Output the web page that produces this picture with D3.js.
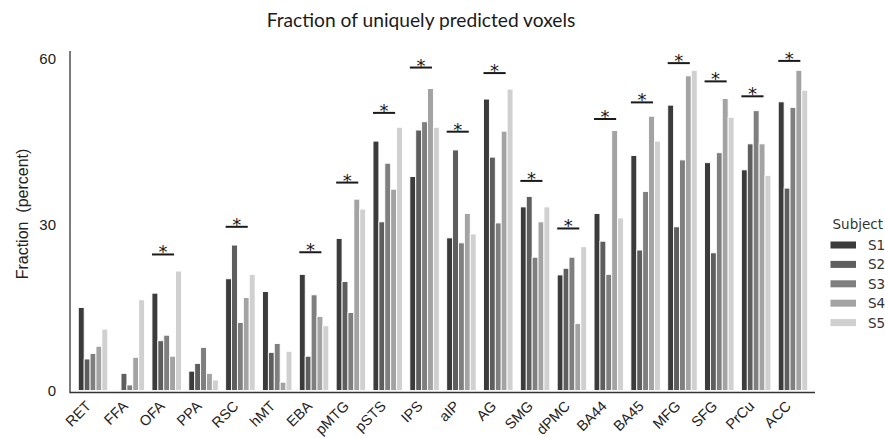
<!DOCTYPE html>
<html>
<head>
<meta charset="utf-8">
<script src="https://cdn.jsdelivr.net/npm/d3@7"></script>
<style>
  html, body { margin: 0; padding: 0; background: #fff; }
  svg { display: block; }
</style>
</head>
<body>
<svg id="chart" width="885" height="438"></svg>
<script>
// Regions of interest along the x axis
const regions = ["RET","FFA","OFA","PPA","RSC","hMT","EBA","pMTG","pSTS","IPS",
                 "aIP","AG","SMG","dPMC","BA44","BA45","MFG","SFG","PrCu","ACC"];
const subjects = ["S1","S2","S3","S4","S5"];

// Fraction of uniquely predicted voxels (percent), one array per subject
const s1 = [15.0, 0.0, 17.6, 3.5, 20.2, 17.9, 21.0, 27.5, 45.1, 38.7, 27.6, 52.7, 33.2, 20.9, 32.0, 42.5, 51.6, 41.2, 39.9, 52.2];
const s2 = [ 5.7, 3.1,  9.0, 4.9, 26.3,  6.9,  6.2, 19.7, 30.5, 47.1, 43.5, 42.2, 35.1, 22.1, 27.0, 25.4, 29.6, 24.9, 44.6, 36.6];
const s3 = [ 6.7, 1.0, 10.0, 7.8, 12.3,  8.5, 17.3, 14.1, 41.1, 48.6, 26.7, 30.3, 24.1, 24.1, 21.0, 36.0, 41.7, 43.0, 50.6, 51.2];
const s4 = [ 8.0, 6.0,  6.2, 3.1, 16.8,  1.5, 13.4, 34.6, 36.4, 54.6, 32.0, 46.9, 30.5, 12.1, 47.0, 49.6, 56.9, 52.8, 44.6, 57.9];
const s5 = [11.1,16.4, 21.6, 1.9, 21.0,  7.1, 11.7, 32.8, 47.6, 47.6, 28.3, 54.5, 33.2, 26.0, 31.2, 45.1, 57.9, 49.4, 38.9, 54.3];

// Height of the significance marker per region (null = not significant)
const sigLevel = [null, null, 24.6, null, 29.6, null, 25.0, 37.6, 50.2, 58.4,
                  46.8, 57.4, 37.9, 29.3, 49.1, 52.1, 59.2, 55.9, 53.2, 59.6];

const yTicks = [0, 30, 60];
const subjectColors = ["#3b3b3b", "#5e5e5e", "#7f7f7f", "#a3a3a3", "#d0d0d0"];

const series = [s1, s2, s3, s4, s5];
const svg = d3.select("#chart");

const x = d3.scaleBand().domain(regions).range([74.6, 811.4]).padding(0);
const step = x.bandwidth();
const xSub = d3.scaleBand().domain(subjects).range([0, step * 0.8]).padding(0);
const y = d3.scaleLinear().domain([0, 60]).range([390.5, 58.7]);
const color = d3.scaleOrdinal().domain(subjects).range(subjectColors);

// Title
svg.append("text")
  .attr("x", 421).attr("y", 27)
  .attr("text-anchor", "middle")
  .style("font-family", "Lato, 'Open Sans', sans-serif")
  .style("font-size", "19.2px")
  .style("fill", "#1a1a1a")
  .text("Fraction of uniquely predicted voxels");

// Bars
const rows = [];
regions.forEach((r, i) => subjects.forEach((s, j) => rows.push({region: r, subject: s, value: series[j][i]})));

svg.append("g").selectAll("rect")
  .data(rows)
  .join("rect")
  .attr("x", d => x(d.region) + step * 0.1 + xSub(d.subject))
  .attr("y", d => y(d.value))
  .attr("width", xSub.bandwidth())
  .attr("height", d => y(0) - y(d.value))
  .attr("fill", d => color(d.subject))
  .attr("stroke", "#fff")
  .attr("stroke-width", 0.9);

// Significance markers: a bar over each significant region with an asterisk above it
const sig = regions.map((r, i) => ({region: r, level: sigLevel[i]})).filter(d => d.level !== null);
const sigG = svg.append("g");
sigG.selectAll("line")
  .data(sig)
  .join("line")
  .attr("x1", d => x(d.region) + step * 0.1)
  .attr("x2", d => x(d.region) + step * 0.7)
  .attr("y1", d => y(d.level))
  .attr("y2", d => y(d.level))
  .attr("stroke", "#1a1a1a")
  .attr("stroke-width", 2);
sigG.selectAll("text")
  .data(sig)
  .join("text")
  .attr("x", d => x(d.region) + step * 0.4)
  .attr("y", d => y(d.level) + 4)
  .attr("text-anchor", "middle")
  .attr("fill", "#1a1a1a")
  .style("font-family", "'DejaVu Sans', sans-serif")
  .style("font-size", "18px")
  .text("*");

// Y axis
const yAxis = svg.append("g")
  .attr("transform", "translate(70,0)")
  .call(d3.axisLeft(y).tickValues(yTicks).tickSize(0).tickPadding(14));
yAxis.select(".domain").remove();
yAxis.selectAll("text")
  .style("font-family", "'Liberation Sans', Arial, sans-serif")
  .style("font-size", "15px")
  .style("fill", "#222");

svg.append("line")
  .attr("x1", 70).attr("x2", 70).attr("y1", 51).attr("y2", 392.5)
  .attr("stroke", "#333").attr("stroke-width", 1.3);
svg.append("line")
  .attr("x1", 69.5).attr("x2", 815).attr("y1", 392.5).attr("y2", 392.5)
  .attr("stroke", "#333").attr("stroke-width", 1.6);

// X axis: region names rotated 45 degrees, right end under each group
svg.append("g")
  .selectAll("text")
  .data(regions)
  .join("text")
  .attr("transform", d => `translate(${x(d) + step / 2 - 1},407) rotate(-45)`)
  .attr("text-anchor", "end")
  .style("font-family", "'Liberation Sans', Arial, sans-serif")
  .style("font-size", "14.5px")
  .style("fill", "#222")
  .text(d => d);

// Y axis title
svg.append("text")
  .attr("transform", "translate(28,214) rotate(-90)")
  .attr("text-anchor", "middle")
  .style("font-family", "'Liberation Sans', Arial, sans-serif")
  .style("font-size", "16px")
  .style("fill", "#222")
  .style("white-space", "pre")
  .text("Fraction  (percent)");

// Legend
const legend = svg.append("g");
legend.append("text")
  .attr("x", 832.5).attr("y", 229)
  .style("font-family", "'DejaVu Sans', sans-serif")
  .style("font-size", "13.5px")
  .style("fill", "#333")
  .text("Subject");
const items = legend.selectAll("g.item")
  .data(subjects)
  .join("g")
  .attr("class", "item")
  .attr("transform", (d, i) => `translate(0, ${245 + i * 19.4})`);
items.append("rect")
  .attr("x", 830.5).attr("y", -3.5)
  .attr("width", 25.5).attr("height", 7)
  .attr("fill", d => color(d));
items.append("text")
  .attr("x", 868).attr("y", 5)
  .style("font-family", "'DejaVu Sans', sans-serif")
  .style("font-size", "13.5px")
  .style("fill", "#333")
  .text(d => d);
</script>
</body>
</html>
